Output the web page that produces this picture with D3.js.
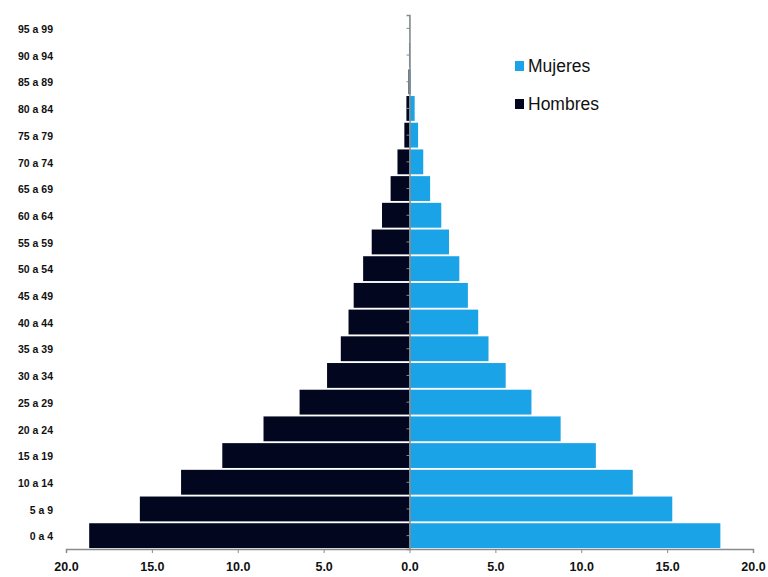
<!DOCTYPE html>
<html>
<head>
<meta charset="utf-8">
<script src="https://cdn.jsdelivr.net/npm/d3@7"></script>
<style>
  html, body { margin: 0; padding: 0; background: #fff; }
  svg text { font-family: "Liberation Sans Narrow", "Arial Narrow", "Liberation Sans", sans-serif; }
</style>
</head>
<body>
<svg id="chart" width="768" height="577"></svg>
<script>
// Age groups, bottom to top
const categories = ["0 a 4","5 a 9","10 a 14","15 a 19","20 a 24","25 a 29","30 a 34","35 a 39","40 a 44","45 a 49","50 a 54","55 a 59","60 a 64","65 a 69","70 a 74","75 a 79","80 a 84","85 a 89","90 a 94","95 a 99"];
const hombres = [18.65, 15.7, 13.3, 10.9, 8.5, 6.4, 4.8, 4.0, 3.55, 3.25, 2.7, 2.2, 1.6, 1.1, 0.7, 0.3, 0.18, 0.06, 0.03, 0.01];
const mujeres = [18.1, 15.3, 13.0, 10.85, 8.8, 7.1, 5.6, 4.6, 4.0, 3.4, 2.9, 2.3, 1.85, 1.2, 0.8, 0.5, 0.3, 0.08, 0.04, 0.02];
const xTicks = [-20, -15, -10, -5, 0, 5, 10, 15, 20];
const xTickLabels = ["20.0","15.0","10.0","5.0","0.0","5.0","10.0","15.0","20.0"];
const seriesNames = ["Mujeres", "Hombres"];
const colors = { Mujeres: "#1ba3e8", Hombres: "#03061f" };

const svg = d3.select("#chart");
const margin = { left: 66, right: 15, top: 15, bottom: 28 };
const W = 768, H = 577;

const x = d3.scaleLinear().domain([-20, 20]).range([margin.left, W - margin.right]);
const y = d3.scaleBand().domain(categories).range([H - margin.bottom, margin.top]).paddingInner(0.07).paddingOuter(0.035);

const rows = categories.map((c, i) => ({ c, h: hombres[i], m: mujeres[i] }));

// Hombres bars (left)
svg.append("g").selectAll("rect").data(rows).join("rect")
  .attr("x", d => x(-d.h))
  .attr("y", d => y(d.c))
  .attr("width", d => x(0) - x(-d.h))
  .attr("height", y.bandwidth())
  .attr("fill", colors.Hombres);

// Mujeres bars (right)
svg.append("g").selectAll("rect").data(rows).join("rect")
  .attr("x", x(0))
  .attr("y", d => y(d.c))
  .attr("width", d => x(d.m) - x(0))
  .attr("height", y.bandwidth())
  .attr("fill", colors.Mujeres);

// X axis
const xAxis = d3.axisBottom(x).tickValues(xTicks).tickSize(4).tickFormat((d, i) => xTickLabels[i]);
const gx = svg.append("g").attr("transform", `translate(0,${H - margin.bottom})`).call(xAxis);
gx.select(".domain").attr("stroke", "#8a8a8a").attr("stroke-width", 1.5);
gx.selectAll(".tick line").attr("stroke", "#8a8a8a");
gx.selectAll(".tick text").attr("font-size", 12.5).attr("font-weight", "bold").attr("fill", "#111").attr("y", 10).attr("dy", "0.95em");

// Vertical center axis
const yAxis = d3.axisLeft(y).tickSize(3).tickFormat("");
const gy = svg.append("g").attr("transform", `translate(${x(0)},0)`).call(yAxis);
gy.select(".domain").attr("stroke", "#8a8a8a").attr("stroke-width", 1.5);
gy.selectAll(".tick line").attr("stroke", "#8a8a8a");

// Category labels on left
svg.append("g").selectAll("text").data(categories).join("text")
  .attr("x", 53)
  .attr("y", d => y(d) + y.bandwidth() / 2)
  .attr("dy", "0.45em")
  .attr("text-anchor", "end")
  .attr("font-size", 10.5)
  .attr("font-weight", "bold")
  .attr("fill", "#111")
  .text(d => d);

// Legend
const leg = svg.append("g");
seriesNames.forEach((name, i) => {
  const yy = 66 + i * 38;
  leg.append("rect").attr("x", 515).attr("y", yy - 5).attr("width", 9).attr("height", 10).attr("fill", colors[name]);
  leg.append("text").attr("x", 528).attr("y", yy).attr("dy", "0.36em")
    .attr("font-size", 17.5).attr("fill", "#111").text(name);
});
</script>
</body>
</html>
